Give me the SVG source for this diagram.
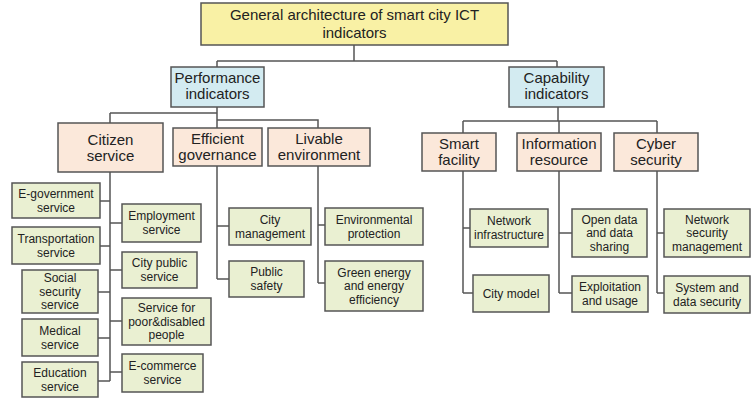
<svg xmlns="http://www.w3.org/2000/svg" width="751" height="402" viewBox="0 0 751 402">
<style>
.root,.l1,.l2,.leaf{stroke:#555;stroke-width:1.5}
.root{fill:#f9f1a5}
.l1{fill:#d3ebf1}
.l2{fill:#fbe8da}
.leaf{fill:#eaf0d2}
text{font-family:"Liberation Sans",Arial,sans-serif;fill:#222;text-anchor:middle}
.big{font-size:15px}
.sm{font-size:12px}
#connectors path{fill:none;stroke:#555;stroke-width:1.5}
</style>
<rect x="0" y="0" width="751" height="402" fill="#fff"/>
<g id="connectors">
<path d="M354 45V61M217 61H557M217 61V67M557 61V67"/>
<path d="M217 107V128M110 113H217M110 113V123M217 120H318V128"/>
<path d="M558 107V121M463 121H657M463 121V133M559 121V133M657 121V133"/>
<path d="M110 172V381M100 201H110M100 246H110M98 292H110M98 338H110M98 381H110M110 223H122M110 270H122M110 321H122M110 372H122"/>
<path d="M217 166V279M217 226H229M217 279H229"/>
<path d="M318 166V283M318 225H325M318 283H325"/>
<path d="M463 171V293M463 228H470M463 293H473"/>
<path d="M559 171V293M559 233H572M559 293H572"/>
<path d="M657 171V293M657 233H664M657 293H664"/>
</g>
<g id="root"><rect class="root" x="201" y="3" width="307" height="42"/><text class="big" x="354.5" y="20">General architecture of smart city ICT</text><text class="big" x="354.5" y="38">indicators</text></g>
<g id="performance"><rect class="l1" x="171" y="67" width="93" height="40"/><text class="big" x="217.5" y="83">Performance</text><text class="big" x="217.5" y="99">indicators</text></g>
<g id="capability"><rect class="l1" x="509" y="67" width="95" height="40"/><text class="big" x="556.5" y="83">Capability</text><text class="big" x="556.5" y="99">indicators</text></g>
<g id="citizen"><rect class="l2" x="58" y="123" width="105" height="49"/><text class="big" x="110.5" y="144.5">Citizen</text><text class="big" x="110.5" y="160.5">service</text></g>
<g id="efficient"><rect class="l2" x="173" y="128" width="89" height="38"/><text class="big" x="217.5" y="144">Efficient</text><text class="big" x="217.5" y="160">governance</text></g>
<g id="livable"><rect class="l2" x="268" y="128" width="102" height="38"/><text class="big" x="319" y="144">Livable</text><text class="big" x="319" y="160">environment</text></g>
<g id="smart"><rect class="l2" x="422" y="133" width="74" height="38"/><text class="big" x="459" y="149">Smart</text><text class="big" x="459" y="165">facility</text></g>
<g id="information"><rect class="l2" x="517" y="133" width="84" height="38"/><text class="big" x="559" y="149">Information</text><text class="big" x="559" y="165">resource</text></g>
<g id="cyber"><rect class="l2" x="614" y="133" width="84" height="38"/><text class="big" x="656" y="149">Cyber</text><text class="big" x="656" y="165">security</text></g>
<g id="egov"><rect class="leaf" x="12" y="183" width="88" height="35"/><text class="sm" x="56" y="197.5">E-government</text><text class="sm" x="56" y="211.5">service</text></g>
<g id="transport"><rect class="leaf" x="12" y="227" width="88" height="37"/><text class="sm" x="56" y="242.5">Transportation</text><text class="sm" x="56" y="256.5">service</text></g>
<g id="social"><rect class="leaf" x="22" y="270" width="76" height="43"/><text class="sm" x="60" y="282">Social</text><text class="sm" x="60" y="295.5">security</text><text class="sm" x="60" y="309">service</text></g>
<g id="medical"><rect class="leaf" x="22" y="319" width="76" height="37"/><text class="sm" x="60" y="334.5">Medical</text><text class="sm" x="60" y="348.5">service</text></g>
<g id="education"><rect class="leaf" x="22" y="362" width="76" height="35"/><text class="sm" x="60" y="376.5">Education</text><text class="sm" x="60" y="390.5">service</text></g>
<g id="employment"><rect class="leaf" x="122" y="204" width="79" height="38"/><text class="sm" x="161.5" y="220">Employment</text><text class="sm" x="161.5" y="234">service</text></g>
<g id="citypublic"><rect class="leaf" x="122" y="252" width="75" height="36"/><text class="sm" x="159.5" y="267">City public</text><text class="sm" x="159.5" y="281">service</text></g>
<g id="poor"><rect class="leaf" x="122" y="298" width="89" height="47"/><text class="sm" x="166.5" y="312">Service for</text><text class="sm" x="166.5" y="325.5">poor&amp;disabled</text><text class="sm" x="166.5" y="339">people</text></g>
<g id="ecommerce"><rect class="leaf" x="122" y="354" width="81" height="38"/><text class="sm" x="162.5" y="370">E-commerce</text><text class="sm" x="162.5" y="384">service</text></g>
<g id="citymgmt"><rect class="leaf" x="229" y="208" width="82" height="37"/><text class="sm" x="270" y="223.5">City</text><text class="sm" x="270" y="237.5">management</text></g>
<g id="publicsafety"><rect class="leaf" x="229" y="261" width="75" height="36"/><text class="sm" x="266.5" y="276">Public</text><text class="sm" x="266.5" y="290">safety</text></g>
<g id="envprot"><rect class="leaf" x="325" y="208" width="98" height="37"/><text class="sm" x="374" y="223.5">Environmental</text><text class="sm" x="374" y="237.5">protection</text></g>
<g id="green"><rect class="leaf" x="325" y="261" width="98" height="50"/><text class="sm" x="374" y="276.5">Green energy</text><text class="sm" x="374" y="290">and energy</text><text class="sm" x="374" y="303.5">efficiency</text></g>
<g id="netinfra"><rect class="leaf" x="470" y="209" width="78" height="38"/><text class="sm" x="509" y="225">Network</text><text class="sm" x="509" y="239">infrastructure</text></g>
<g id="citymodel"><rect class="leaf" x="473" y="275" width="76" height="37"/><text class="sm" x="511" y="297.5">City model</text></g>
<g id="opendata"><rect class="leaf" x="572" y="209" width="75" height="48"/><text class="sm" x="609.5" y="223.5">Open data</text><text class="sm" x="609.5" y="237">and data</text><text class="sm" x="609.5" y="250.5">sharing</text></g>
<g id="exploitation"><rect class="leaf" x="572" y="276" width="76" height="36"/><text class="sm" x="610" y="291">Exploitation</text><text class="sm" x="610" y="305">and usage</text></g>
<g id="netsec"><rect class="leaf" x="664" y="209" width="86" height="48"/><text class="sm" x="707" y="223.5">Network</text><text class="sm" x="707" y="237">security</text><text class="sm" x="707" y="250.5">management</text></g>
<g id="sysdata"><rect class="leaf" x="664" y="276" width="86" height="37"/><text class="sm" x="707" y="291.5">System and</text><text class="sm" x="707" y="305.5">data security</text></g>
</svg>
